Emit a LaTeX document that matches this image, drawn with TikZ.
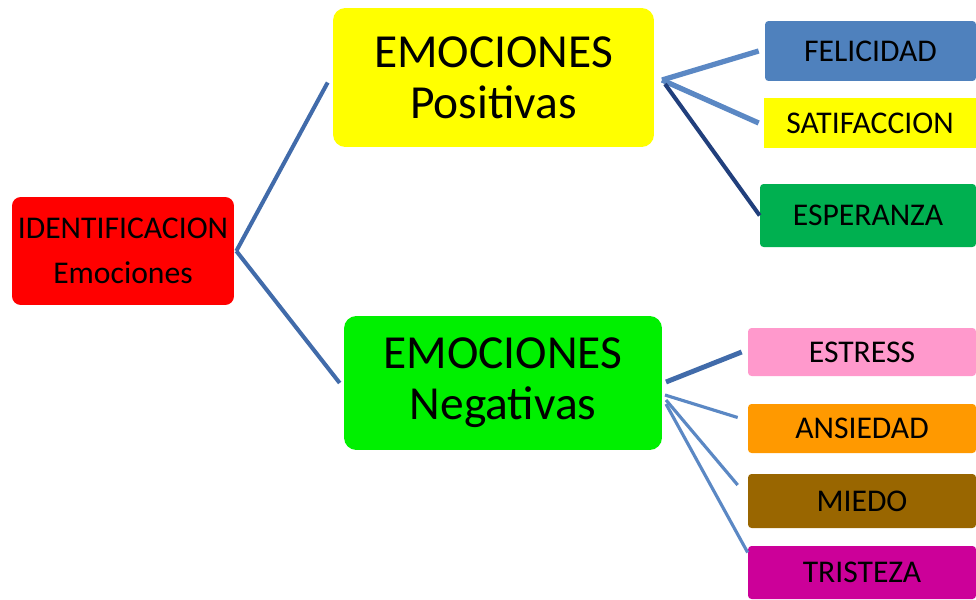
\documentclass[tikz,border=0pt]{standalone}
\usepackage{fontspec}
\setmainfont{Carlito}
\usetikzlibrary{positioning}

\definecolor{identred}{HTML}{FF0000}
\definecolor{posyellow}{HTML}{FFFF00}
\definecolor{neggreen}{HTML}{00F000}
\definecolor{felblue}{HTML}{4F81BD}
\definecolor{espgreen}{HTML}{00B050}
\definecolor{estpink}{HTML}{FF99CC}
\definecolor{ansorange}{HTML}{FF9900}
\definecolor{miebrown}{HTML}{996600}
\definecolor{trimagenta}{HTML}{CC0099}
\definecolor{linkblue}{HTML}{416BAA}
\definecolor{lightlink}{HTML}{5B88C4}
\definecolor{darklink}{HTML}{213F7C}

\begin{document}
\begin{tikzpicture}[
  x=0.02cm, y=-0.02cm,
  root/.style={
    rectangle, rounded corners=5pt, inner sep=0pt, align=center,
    minimum width=4.44cm, minimum height=2.16cm,
    font=\fontsize{18}{26}\selectfont
  },
  group/.style={
    rectangle, rounded corners=7pt, inner sep=0pt, align=center,
    font=\fontsize{27}{29}\selectfont
  },
  leaf/.style={
    rectangle, rounded corners=2pt, inner sep=0pt,
    font=\fontsize{18}{20}\selectfont
  },
  link/.style={draw=linkblue, line width=2.3pt},
]
\useasboundingbox (0,0) rectangle (976,599);

% main boxes
\node[root, fill=identred] (ident) at (123,251)
  {IDENTIFICACION\\Emociones};
\node[group, fill=posyellow, minimum width=6.42cm, minimum height=2.78cm] (pos) at (493.5,77.5)
  {EMOCIONES\\Positivas};
\node[group, fill=neggreen, minimum width=6.36cm, minimum height=2.68cm] (neg) at (503,383)
  {EMOCIONES\\Negativas};

% positive emotions
\node[leaf, fill=felblue, minimum width=4.22cm, minimum height=1.2cm] (feli) at (870.5,51) {FELICIDAD};
\node[leaf, fill=posyellow, rounded corners=0pt, minimum width=4.24cm, minimum height=1cm] (satis) at (870,123) {SATIFACCION};
\node[leaf, fill=espgreen, minimum width=4.32cm, minimum height=1.26cm] (espe) at (868,215.5) {ESPERANZA};

% negative emotions
\node[leaf, fill=estpink, minimum width=4.56cm, minimum height=0.96cm] (estr) at (862,352) {ESTRESS};
\node[leaf, fill=ansorange, minimum width=4.56cm, minimum height=0.98cm] (ansi) at (862,428.5) {ANSIEDAD};
\node[leaf, fill=miebrown, minimum width=4.56cm, minimum height=1.08cm] (mied) at (862,501) {MIEDO};
\node[leaf, fill=trimagenta, minimum width=4.56cm, minimum height=1.06cm] (tris) at (862,572.5) {TRISTEZA};

\coordinate (posout) at (662,80);
\coordinate (negout) at (665,395);

% connectors
\draw[link] ([shift={(2,0)}]ident.east) -- ([shift={(-5,5)}]pos.west);
\draw[link] ([shift={(2,0)}]ident.east) -- ([shift={(-4,0)}]neg.west);

\draw[link, draw=lightlink, line width=3pt] (posout) -- ([shift={(-6,0)}]feli.west);
\draw[link, draw=lightlink, line width=3pt] (posout) -- ([shift={(-5,0)}]satis.west);
\draw[link, draw=darklink] ([shift={(3,4)}]posout) -- (espe.west);

\draw[link, line width=2.8pt] ([shift={(1,-13)}]negout) -- ([shift={(-6,0)}]estr.west);
\draw[link, draw=lightlink, line width=1.8pt] (negout) -- ([shift={(-10,-11)}]ansi.west);
\draw[link, draw=lightlink, line width=1.8pt] ([shift={(1,5)}]negout) -- ([shift={(-10,-16)}]mied.west);
\draw[link, draw=lightlink, line width=1.8pt] ([shift={(1,9)}]negout) -- ([shift={(0,-20)}]tris.west);

\end{tikzpicture}
\end{document}
